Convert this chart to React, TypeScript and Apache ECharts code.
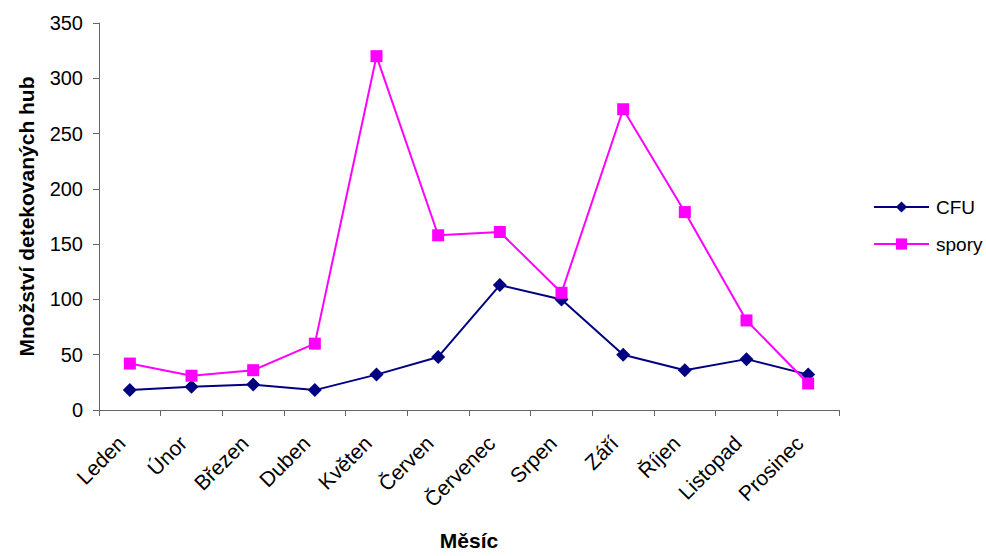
import React, { useEffect, useRef } from "react";
import * as echarts from "echarts";

const months = ["Leden", "Únor", "Březen", "Duben", "Květen", "Červen", "Červenec", "Srpen", "Září", "Říjen", "Listopad", "Prosinec"];
const cfu = [18, 21, 23, 18, 32, 48, 113, 100, 50, 36, 46, 32];
const spory = [42, 31, 36, 60, 320, 158, 161, 106, 272, 179, 81, 24];
const yTicks = { min: 0, max: 350, interval: 50 };

export default function App() {
  const ref = useRef<HTMLDivElement>(null);
  useEffect(() => {
    const chart = echarts.init(ref.current!, null, { renderer: "svg" });
    const font = "Liberation Sans, Arial, sans-serif";
    chart.setOption({
      animation: false,
      textStyle: { fontFamily: font },
      grid: { left: 99, right: 147, top: 23, bottom: 141, containLabel: false },
      legend: {
        orient: "vertical",
        left: 868,
        top: 192,
        itemWidth: 55,
        itemHeight: 14,
        itemGap: 17,
        textStyle: { fontSize: 19, lineHeight: 20, color: "#000", fontFamily: font, padding: [0, 0, 0, 2] },
        data: ["CFU", "spory"],
      },
      xAxis: {
        type: "category",
        data: months,
        boundaryGap: true,
        name: "Měsíc",
        nameLocation: "middle",
        nameGap: 120,
        nameTextStyle: { fontSize: 21, fontWeight: "bold", color: "#000", fontFamily: font },
        axisLine: { lineStyle: { color: "#666", width: 1 } },
        axisTick: { show: true, length: 6, alignWithLabel: false, lineStyle: { color: "#666" } },
        axisLabel: {
          rotate: 45,
          fontSize: 21,
          color: "#000",
          margin: 21,
          padding: [0, 12, 0, 0],
          interval: 0,
          fontFamily: font,
        },
      },
      yAxis: {
        type: "value",
        min: yTicks.min,
        max: yTicks.max,
        interval: yTicks.interval,
        name: "Množství detekovaných hub",
        nameLocation: "middle",
        nameGap: 62,
        nameTextStyle: { fontSize: 21, fontWeight: "bold", color: "#000", fontFamily: font },
        splitLine: { show: false },
        axisLine: { show: true, lineStyle: { color: "#666", width: 1 } },
        axisTick: { show: true, length: 6, lineStyle: { color: "#666" } },
        axisLabel: { fontSize: 20, color: "#000", margin: 16, fontFamily: font },
      },
      series: [
        {
          name: "CFU",
          type: "line",
          data: cfu,
          symbol: "diamond",
          symbolSize: 14,
          lineStyle: { color: "#000080", width: 2 },
          itemStyle: { color: "#000080" },
        },
        {
          name: "spory",
          type: "line",
          data: spory,
          symbol: "rect",
          symbolSize: 12,
          lineStyle: { color: "#FF00FF", width: 2 },
          itemStyle: { color: "#FF00FF" },
        },
      ],
    });
    return () => chart.dispose();
  }, []);
  return <div ref={ref} style={{ width: 986, height: 556, position: "absolute", left: 0, top: 0 }} />;
}
